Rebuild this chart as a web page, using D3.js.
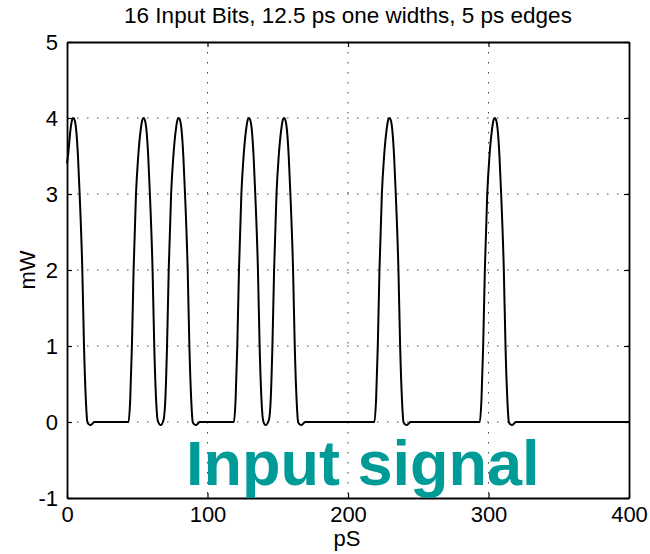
<!DOCTYPE html>
<html>
<head>
<meta charset="utf-8">
<script src="https://cdn.jsdelivr.net/npm/d3@7"></script>
<style>
  html, body { margin: 0; padding: 0; background: #fff; }
  svg { display: block; font-family: "Liberation Sans", Arial, Helvetica, sans-serif; }
</style>
</head>
<body>
<div id="chart"></div>
<script>
// Chart text
const titleText = "16 Input Bits, 12.5 ps one widths, 5 ps edges";
const xLabel = "pS";
const yLabel = "mW";
const overlayText = "Input signal";

// Axis ticks
const xTicks = [0, 100, 200, 300, 400];
const yTicks = [-1, 0, 1, 2, 3, 4, 5];

// Waveform: [time in ps, power in mW]
const signal = [
  [0, 3.4], [0.7, 3.5], [2.5, 3.85], [3.7, 3.98], [4.5, 4.0], [5.3, 3.98], [6.5, 3.85],
  [7.8, 3.5], [9, 3.0], [10.9, 2.0], [12.1, 1.0], [13.4, 0.3], [14.5, 0.0],
  [15.5, -0.03], [16.9, -0.04], [18.2, -0.02], [19.5, 0],
  [43.8, 0],
  [45, 0.3], [46.2, 1.0], [47.4, 2.0], [49.1, 3.0], [50.7, 3.5], [52.5, 3.85], [53.7, 3.98],
  [54.5, 4.0], [55.3, 3.98], [56.5, 3.85], [57.8, 3.5], [59, 3.0], [60.9, 2.0], [62.1, 1.0],
  [63.4, 0.3], [64.6, 0.02], [66.7, -0.04], [68.6, 0.02],
  [70, 0.3], [71.2, 1.0], [72.4, 2.0], [74.1, 3.0], [75.7, 3.5], [77.5, 3.85], [78.7, 3.98],
  [79.5, 4.0], [80.3, 3.98], [81.5, 3.85], [82.8, 3.5], [84, 3.0], [85.9, 2.0], [87.1, 1.0],
  [88.4, 0.3], [89.5, 0], [90.5, -0.03], [91.9, -0.04], [93.2, -0.02], [94.5, 0],
  [118.8, 0],
  [120, 0.3], [121.2, 1.0], [122.4, 2.0], [124.1, 3.0], [125.7, 3.5], [127.5, 3.85], [128.7, 3.98],
  [129.5, 4.0], [130.3, 3.98], [131.5, 3.85], [132.8, 3.5], [134, 3.0], [135.9, 2.0], [137.1, 1.0],
  [138.4, 0.3], [139.6, 0.02], [141.3, -0.04], [143.6, 0.02],
  [145, 0.3], [146.2, 1.0], [147.4, 2.0], [149.1, 3.0], [150.7, 3.5], [152.5, 3.85], [153.7, 3.98],
  [154.5, 4.0], [155.3, 3.98], [156.5, 3.85], [157.8, 3.5], [159, 3.0], [160.9, 2.0], [162.1, 1.0],
  [163.4, 0.3], [164.5, 0], [165.5, -0.03], [166.9, -0.04], [168.2, -0.02], [169.5, 0],
  [218.8, 0],
  [220, 0.3], [221.2, 1.0], [222.4, 2.0], [224.1, 3.0], [225.7, 3.5], [227.5, 3.85], [228.7, 3.98],
  [229.5, 4.0], [230.3, 3.98], [231.5, 3.85], [232.8, 3.5], [234, 3.0], [235.9, 2.0], [237.1, 1.0],
  [238.4, 0.3], [239.5, 0], [240.5, -0.03], [241.9, -0.04], [243.2, -0.02], [244.5, 0],
  [293.8, 0],
  [295, 0.3], [296.2, 1.0], [297.4, 2.0], [299.1, 3.0], [300.7, 3.5], [302.5, 3.85], [303.7, 3.98],
  [304.5, 4.0], [305.3, 3.98], [306.5, 3.85], [307.8, 3.5], [309, 3.0], [310.9, 2.0], [312.1, 1.0],
  [313.4, 0.3], [314.5, 0], [315.5, -0.03], [316.9, -0.04], [318.2, -0.02], [319.5, 0],
  [400, 0]
];

const width = 650, height = 554;
const margin = { top: 42, right: 21, bottom: 56, left: 67 };
const innerW = width - margin.left - margin.right;
const innerH = height - margin.top - margin.bottom;

const svg = d3.select("#chart").append("svg")
  .attr("width", width)
  .attr("height", height);

const x = d3.scaleLinear().domain([0, 400]).range([margin.left, margin.left + innerW]);
const y = d3.scaleLinear().domain([-1, 5]).range([margin.top + innerH, margin.top]);

// Dotted grid
const grid = svg.append("g")
  .attr("stroke", "#444")
  .attr("stroke-width", 1)
  .attr("stroke-dasharray", "1.5,8.5");

grid.selectAll(".gx")
  .data(xTicks.slice(1, -1))
  .enter().append("line")
  .attr("x1", d => x(d)).attr("x2", d => x(d))
  .attr("y1", y(5)).attr("y2", y(-1));

grid.selectAll(".gy")
  .data(yTicks.slice(1, -1))
  .enter().append("line")
  .attr("x1", x(0)).attr("x2", x(400))
  .attr("y1", d => y(d)).attr("y2", d => y(d));

// Axes (inward ticks, box)
const tickLen = 5;
const plainNum = d => String(d);
const axisBottom = svg.append("g")
  .attr("transform", `translate(0,${y(-1)})`)
  .call(d3.axisBottom(x).tickValues(xTicks).tickFormat(plainNum)
    .tickSizeInner(-tickLen).tickSizeOuter(0).tickPadding(8));
const axisLeft = svg.append("g")
  .attr("transform", `translate(${x(0)},0)`)
  .call(d3.axisLeft(y).tickValues(yTicks).tickFormat(plainNum)
    .tickSizeInner(-tickLen).tickSizeOuter(0).tickPadding(9));
const axisTop = svg.append("g")
  .attr("transform", `translate(0,${y(5)})`)
  .call(d3.axisTop(x).tickValues(xTicks).tickSizeInner(-tickLen).tickSizeOuter(0).tickFormat(""));
const axisRight = svg.append("g")
  .attr("transform", `translate(${x(400)},0)`)
  .call(d3.axisRight(y).tickValues(yTicks).tickSizeInner(-tickLen).tickSizeOuter(0).tickFormat(""));

[axisBottom, axisLeft, axisTop, axisRight].forEach(a => {
  a.select(".domain").attr("stroke", "#000").attr("stroke-width", 1.8);
  a.selectAll(".tick line").attr("stroke", "#000").attr("stroke-width", 1.2);
  a.selectAll(".tick text")
    .attr("fill", "#000")
    .style("font-size", "22px")
    .style("font-family", "'Liberation Sans', Arial, sans-serif");
});

// Waveform
const line = d3.line()
  .x(d => x(d[0]))
  .y(d => y(d[1]))
  .curve(d3.curveMonotoneX);

svg.append("path")
  .datum(signal)
  .attr("d", line)
  .attr("fill", "none")
  .attr("stroke", "#000")
  .attr("stroke-width", 2);

// Title and axis labels
svg.append("text")
  .attr("x", 348)
  .attr("y", 23)
  .attr("text-anchor", "middle")
  .style("font-size", "22.5px")
  .text(titleText);

svg.append("text")
  .attr("x", 347)
  .attr("y", 546)
  .attr("text-anchor", "middle")
  .style("font-size", "22px")
  .text(xLabel);

svg.append("text")
  .attr("transform", `translate(35,${y(2)}) rotate(-90)`)
  .attr("text-anchor", "middle")
  .style("font-size", "22px")
  .text(yLabel);

// Teal overlay label
svg.append("text")
  .attr("x", 186)
  .attr("y", 485)
  .style("font-size", "63px")
  .style("font-weight", "bold")
  .attr("fill", "#009a97")
  .text(overlayText);
</script>
</body>
</html>
